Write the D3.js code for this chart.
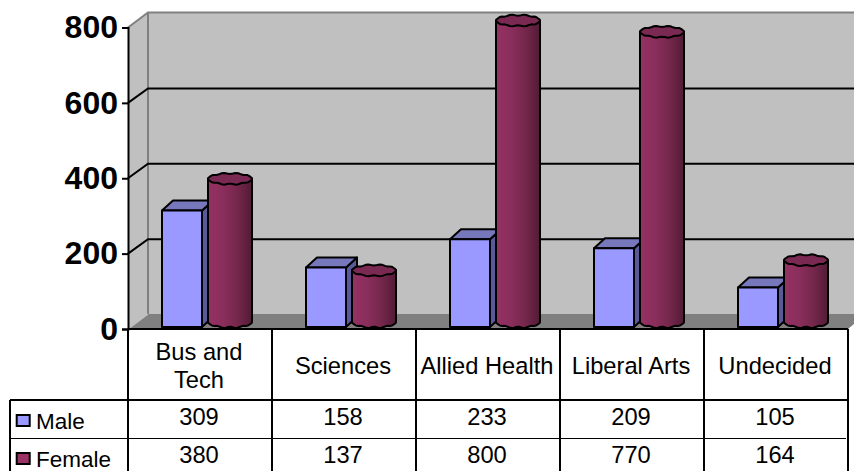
<!DOCTYPE html>
<html><head><meta charset="utf-8">
<script src="https://cdn.jsdelivr.net/npm/d3@7"></script>
<style>html,body{margin:0;padding:0;background:#fff;overflow:hidden}svg{display:block}text{font-family:"Liberation Sans",Arial,sans-serif;fill:#000}</style>
</head><body><svg id="c" width="854" height="471"></svg>
<script>
const categories=["Bus and\nTech","Sciences","Allied Health","Liberal Arts","Undecided"];
const male=[309,158,233,209,105];
const female=[380,137,800,770,164];
const yTicks=[0,200,400,600,800];
const seriesNames=["Male","Female"];

const svg=d3.select("#c");
const W=854,H=471,L=128,R=848,Y0=329,Y800=27.5,DX=20,DY=15;
const x=d3.scaleBand().domain(d3.range(categories.length)).range([L,R]);
const y=d3.scaleLinear().domain([0,800]).range([Y0,Y800]);
const h=v=>Y0-y(v);
const defs=svg.append("defs");
const g=defs.append("linearGradient").attr("id","cyl");
[[0,"#953263"],[.35,"#8a2e5c"],[.7,"#722649"],[1,"#521b36"]].forEach(s=>g.append("stop").attr("offset",s[0]).attr("stop-color",s[1]));

// walls and floor
svg.append("rect").attr("x",L+DX).attr("y",y(800)-DY).attr("width",W-L-DX).attr("height",Y0-y(800)).attr("fill","#c0c0c0");
svg.append("path").attr("d",`M${L},${Y0}L${L},${y(800)}L${L+DX},${y(800)-DY}L${L+DX},${Y0-DY}Z`).attr("fill","#c0c0c0");
svg.append("path").attr("d",`M${L},${Y0}L${L+DX},${Y0-DY}L${W},${Y0-DY}L${W},${Y0-DY+10}L${R},${Y0}Z`).attr("fill","#808080");
svg.append("path").attr("d",`M${L},${y(800)}L${L+DX},${y(800)-DY}L${W},${y(800)-DY}M${L+DX},${y(800)-DY}L${L+DX},${Y0-DY}`).attr("fill","none").attr("stroke","#808080").attr("stroke-width",2);
svg.append("path").attr("d",`M${L},${Y0}L${L+DX},${Y0-DY}`).attr("stroke","#c0c0c0").attr("stroke-width",1.5);
// gridlines
svg.append("g").selectAll("path").data(yTicks.filter(t=>t>0&&t<800)).join("path")
  .attr("d",t=>`M${L},${y(t)}L${L+DX},${y(t)-DY+.5}L${W},${y(t)-DY+.5}`).attr("fill","none").attr("stroke","#000").attr("stroke-width",2);

// y axis
const ax=svg.append("g").attr("transform",`translate(${L},0)`).call(d3.axisLeft(y).tickValues(yTicks).tickSize(6).tickPadding(4).tickFormat(d3.format("d")));
ax.selectAll("path,line").attr("stroke","#000").attr("stroke-width",2);
ax.selectAll("text").attr("font-size",32).attr("font-weight","bold").attr("font-family",'"Liberation Sans",Arial,sans-serif').attr("fill","#000");

// bars
const boxX=34,boxW=40,cylX=80,cylRx=22,dx=11,dy=10,boxBase=327,cylBase=322,ry=5.5;
function wavy(cx,cy,rx,ry,a0,a1,n){
  const pts=[];
  for(let i=0;i<=n;i++){const a=a0+(a1-a0)*i/n,m=1+.12*Math.cos(a*10);pts.push([cx+rx*Math.cos(a),cy+ry*Math.sin(a)*m]);}
  return pts;
}
const line=d3.line().curve(d3.curveLinear);
categories.forEach((c,i)=>{
  const b=svg.append("g");
  const x0=x(i)+boxX,top=boxBase-h(male[i]);
  const st={stroke:"#000","stroke-width":2,"stroke-linejoin":"round"};
  const P=(d,f)=>{const p=b.append("path").attr("d",d).attr("fill",f);Object.entries(st).forEach(([k,v])=>p.attr(k,v));return p;};
  P(`M${x0+boxW},${top}L${x0+boxW+dx},${top-dy}L${x0+boxW+dx},${boxBase-dy}L${x0+boxW},${boxBase}Z`,"#5a5a99");
  P(`M${x0},${top}L${x0+dx},${top-dy}L${x0+boxW+dx},${top-dy}L${x0+boxW},${top}Z`,"#7777bb");
  P(`M${x0},${top}H${x0+boxW}V${boxBase}H${x0}Z`,"#9999ff");
  const cx=x(i)+cylX+cylRx,cyT=cylBase-h(female[i]);
  const lower=wavy(cx,cylBase,cylRx,ry,0,Math.PI,32);
  const d=`M${cx+cylRx},${cyT}L${cx+cylRx},${cylBase}`+line(lower).replace("M","L")+`L${cx-cylRx},${cyT}Z`;
  P(d,"url(#cyl)");
  P(line(wavy(cx,cyT,cylRx,ry,0,2*Math.PI,48))+"Z","#7a2952");
});

// data table
const T=svg.append("g").attr("stroke","#000").attr("fill","none");
const rowA=400,rowB=438;
T.append("path").attr("stroke-width",2).attr("d",`M${L},${Y0}H${R}M10,${rowA}H${R}M10,${rowA}V${H}`);
T.selectAll(".v").data(d3.range(categories.length+1)).join("path").attr("stroke-width",2)
  .attr("d",i=>{const X=i<categories.length?x(i):R;return `M${X},${Y0}V${H}`;});
T.append("path").attr("stroke-width",1).attr("d",`M10,${rowB+.5}H${R-2}`);

const FS=23.7,LFS=22.5;
const cell=(X,Y,t,anchor,fs)=>svg.append("text").attr("x",X).attr("y",Y).attr("font-size",fs||FS).attr("text-anchor",anchor||"middle").text(t);
categories.forEach((c,i)=>{
  const cxx=x(i)+x.bandwidth()/2-1,lines=c.split("\n");
  if(lines.length==2){cell(cxx,360,lines[0]);cell(cxx,388,lines[1]);}
  else cell(cxx,374,c);
  cell(cxx,425,male[i]);
  cell(cxx,463,female[i]);
});
[["#9999ff",415,429],["#993366",453,467]].forEach((r,i)=>{
  svg.append("rect").attr("x",16.7).attr("y",r[1]).attr("width",13).attr("height",11).attr("fill",r[0]).attr("stroke","#000").attr("stroke-width",2);
  cell(36,r[2],seriesNames[i],"start",LFS);
});
</script></body></html>
